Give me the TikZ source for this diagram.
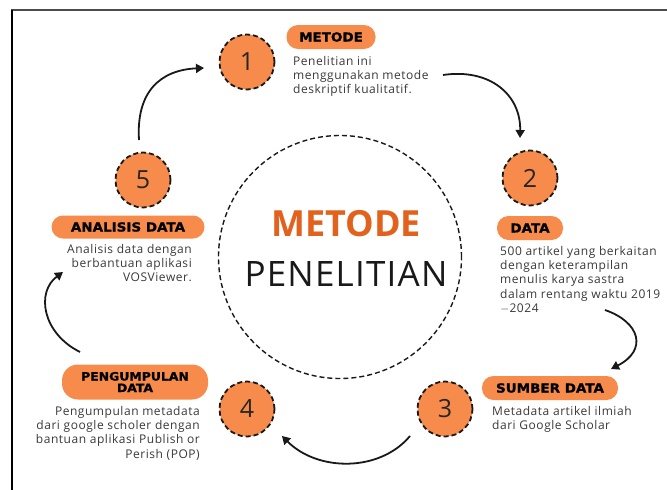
\documentclass[tikz,border=0pt]{standalone}
\usepackage{fontspec}
\usetikzlibrary{arrows.meta}
\newfontfamily\bodyf[LetterSpace=4.5]{Open Sans}
\newfontfamily\pillf[FakeStretch=1.08,FakeBold=1.2]{DejaVu Sans}
\newfontfamily\headf{Open Sans}
\newfontfamily\headwidef[LetterSpace=3.5]{Open Sans}
\definecolor{pillorange}{HTML}{F68B4B}
\definecolor{headorange}{HTML}{E2611C}
\definecolor{bodygray}{HTML}{3A3A3A}
\tikzset{
  num/.style={circle, minimum size=55pt, inner sep=0pt, fill=pillorange, draw=black!90,
    line width=1.8pt, dash pattern=on 5pt off 3pt, font=\headf\fontsize{25}{25}\selectfont, text=black!85},
  pill/.style={rectangle, rounded corners=11.5pt, fill=pillorange, inner sep=0pt, minimum height=24pt,
    font=\pillf\bfseries\fontsize{12.5}{12}\selectfont, text=black, align=center},
  body/.style={inner sep=0pt, text=bodygray, font=\bodyf\fontsize{12}{14.3}\selectfont},
  flow/.style={line width=1.8pt, draw=black!90, -{Triangle[length=8pt,width=9pt]}},
}
\begin{document}
\begin{tikzpicture}[x=1pt,y=-1pt]
\useasboundingbox (0,0) rectangle (667,490);
\fill[white] (0,0) rectangle (667,490);
% frame
\draw[line width=2pt, draw=black!70] (11,10) -- (667,10);
\draw[line width=1.5pt, draw=black] (12,9.5) -- (12,490);
% central circle
\node[circle, minimum size=243pt, inner sep=0pt, draw=black!90, line width=1.4pt, dash pattern=on 5pt off 3pt] (center) at (340,257) {};
\node[font=\headf\bfseries\fontsize{36}{36}\selectfont, text=headorange] (title1) at (346,224) {METODE};
\node[font=\headwidef\fontsize{35}{35}\selectfont, text=black!90] (title2) at (346,274) {PENELITIAN};
% step circles
\node[num] (c1) at (247,62) {1};
\node[num] (c2) at (530,178) {2};
\node[num] (c3) at (445,409) {3};
\node[num] (c4) at (247,409) {4};
\node[num] (c5) at (143,180) {5};
% pills
\node[pill, minimum width=89pt] (p1) at (331,37) {METODE};
\node[pill, minimum width=66pt] (p2) at (530,228) {DATA};
\node[pill, minimum width=136pt] (p3) at (550,388) {SUMBER DATA};
\node[pill, minimum width=146pt, minimum height=35pt, rounded corners=16pt, font=\pillf\bfseries\fontsize{11.5}{11.5}\selectfont] (p4) at (135,382) {PENGUMPULAN\\DATA};
\node[pill, minimum width=153pt, minimum height=23pt] (p5) at (128,227) {ANALISIS DATA};
% body texts
\node[body, anchor=north west, align=left] (t1) at (293,56) {Penelitian ini\\menggunakan metode\\deskriptif kualitatif.};
\node[body, anchor=north west, align=left] (t2) at (500,246) {500 artikel yang berkaitan\\dengan keterampilan\\menulis karya sastra\\dalam rentang waktu 2019\\\mbox{$-$}2024};
\node[body, anchor=north west, align=left] (t3) at (492,406) {Metadata artikel ilmiah\\dari Google Scholar};
\node[body, anchor=north east, align=right] (t4) at (200,406) {Pengumpulan metadata\\dari google scholer dengan\\bantuan aplikasi Publish or\\Perish (POP)};
\node[body, anchor=north east, align=right] (t5) at (192,244) {Analisis data dengan\\berbantuan aplikasi\\VOSViewer.};
% arrow ends
\coordinate (a1s) at (139,140); \coordinate (a1e) at (204,68);
\coordinate (a2s) at (443,75);  \coordinate (a2e) at (520,138);
\coordinate (a3s) at (605,310); \coordinate (a3e) at (611,369);
\coordinate (a4s) at (410,436); \coordinate (a4e) at (282,436);
\coordinate (a5s) at (80,352);  \coordinate (a5e) at (63,272);
\draw[flow] (a1s) .. controls (136,92) and (160,70) .. (a1e);
\draw[flow] (a2s) .. controls (490,68) and (521,95) .. (a2e);
\draw[flow] (a3s) .. controls (640,322) and (648,350) .. (a3e);
\draw[flow] (a4s) .. controls (380,472) and (318,472) .. (a4e);
\draw[flow] (a5s) .. controls (42,333) and (36,292) .. (a5e);
\end{tikzpicture}
\end{document}
